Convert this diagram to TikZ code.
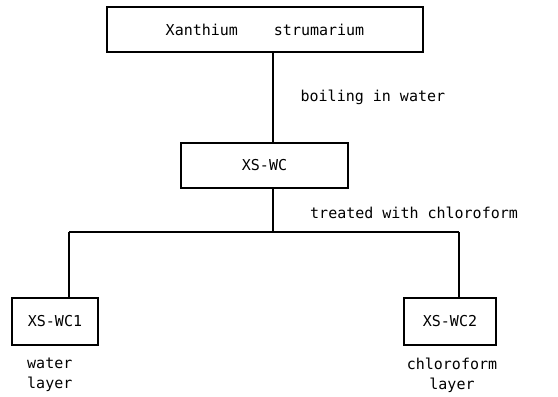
\documentclass[tikz,border=0pt]{standalone}
\usepackage{fontspec}
\setmonofont{DejaVu Sans Mono}
\usepackage{tikz}
\usetikzlibrary{positioning,calc}

\begin{document}
\begin{tikzpicture}[x=1pt, y=1pt,
          every node/.style={font=\ttfamily\fontsize{15}{20}\selectfont},
          box/.style={draw, line width=1.1pt, inner sep=0pt},
          link/.style={line width=1.3pt},
          step label/.style={anchor=west, inner sep=0pt}
      ]
        \useasboundingbox (0,0) rectangle (558,397);
        \node[box, minimum width=316, minimum height=45] (xs)  at (265, 367.5) {Xanthium\hspace{2.4em}strumarium};
        \node[box, minimum width=167, minimum height=45] (wc)  at (264.5, 231.5) {XS-WC};
        \node[box, minimum width=86,  minimum height=47] (wc1) at (55, 75.5) {XS-WC1};
        \node[box, minimum width=92,  minimum height=47] (wc2) at (450, 75.5) {XS-WC2};
        \coordinate (trunk) at (273, 165);
        \coordinate (jl) at (69, 165);
        \coordinate (jr) at (459, 165);
        \draw[link] (xs.south -| trunk) -- (wc.north -| trunk) node[step label, pos=0.5, xshift=27] (boil) {boiling in water};
        \draw[link] (wc.south -| trunk) -- (trunk);
        \node[step label] (chl) at (310, 184) {treated with chloroform};
        \draw[link] (jl) -- (jr);
        \draw[link] (jl) -- (jl |- wc1.north);
        \draw[link] (jr) -- (jr |- wc2.north);
        \node[align=left, anchor=west, inner sep=0pt] (wl) at (27, 22) {water\\layer};
        \node[align=center, inner sep=0pt] (cl) at (452, 22) {chloroform\\layer};
      \end{tikzpicture}
\end{document}
